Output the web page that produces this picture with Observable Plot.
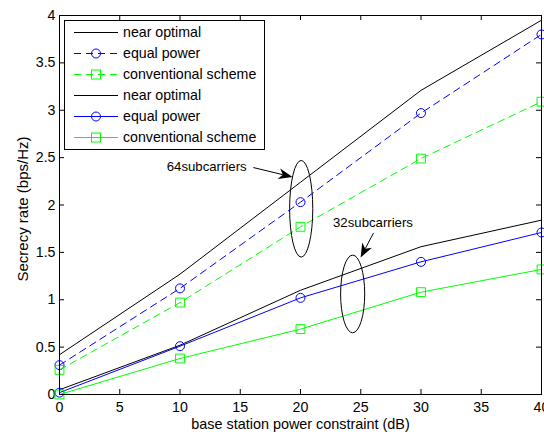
<!DOCTYPE html>
<html>
<head>
<meta charset="utf-8">
<script src="https://cdn.jsdelivr.net/npm/d3@7"></script>
<script src="https://cdn.jsdelivr.net/npm/@observablehq/plot@0.6"></script>
<style>
  html, body { margin: 0; padding: 0; background: white; overflow: hidden; }
</style>
</head>
<body>
<div id="chart"></div>
<script>
// ---- data ----
const snr = [0, 10, 20, 30, 40];
const near64 = [0.42, 1.27, 2.24, 3.21, 3.95];
const equal64 = [0.31, 1.12, 2.03, 2.97, 3.80];
const conv64 = [0.26, 0.97, 1.77, 2.49, 3.09];
const near32 = [0.05, 0.52, 1.10, 1.56, 1.84];
const equal32 = [0.02, 0.51, 1.02, 1.40, 1.71];
const conv32 = [0.00, 0.38, 0.69, 1.08, 1.32];

const xTicks = [0, 5, 10, 15, 20, 25, 30, 35, 40];
const yTicks = [0, 0.5, 1, 1.5, 2, 2.5, 3, 3.5, 4];
const xLabel = "base station power constraint (dB)";
const yLabel = "Secrecy rate (bps/Hz)";
const legendLabels = ["near optimal", "equal power", "conventional scheme", "near optimal", "equal power", "conventional scheme"];

// annotations
const groupLabels = ["64subcarriers", "32subcarriers"];
const groupLabelX = [8.9, 22.7];
const groupLabelY = [2.40, 1.81];
const ellipseCx = [20.1, 24.37];
const ellipseCy = [1.955, 1.056];
const ellipseRx = [0.96, 1.0];
const ellipseRy = [0.51, 0.41];
const arrowX1 = [16.13, 26.1];
const arrowY1 = [2.39, 1.70];
const arrowX2 = [19.38, 25.03];
const arrowY2 = [2.29, 1.44];

// ---- build tables ----
const toRows = (ys) => snr.map((x, i) => ({x, y: ys[i]}));
const DASH = "7,5";
const series = [
  {rows: toRows(near64), color: "#000000", dash: null, marker: null},
  {rows: toRows(equal64), color: "#0000ff", dash: DASH, marker: "circle"},
  {rows: toRows(conv64), color: "#00ff00", dash: DASH, marker: "square"},
  {rows: toRows(near32), color: "#000000", dash: null, marker: null},
  {rows: toRows(equal32), color: "#0000ff", dash: null, marker: "circle"},
  {rows: toRows(conv32), color: "#00ff00", dash: null, marker: "square"}
];
const annot = groupLabels.map((t, i) => ({t, x: groupLabelX[i], y: groupLabelY[i]}));

const FONT = "'Liberation Sans', Arial, Helvetica, sans-serif";
const FS = 14.2, XLFS = 14.4, YLFS = 15, AFS = 13.2;
const W = 544, H = 437, ML = 59, MR = 3, MT = 15, MB = 43;
const FW = W - ML - MR, FH = H - MT - MB;
const TICK = 5;

const marks = [];
series.forEach(s => {
  marks.push(Plot.line(s.rows, {x: "x", y: "y", stroke: s.color, strokeWidth: 1, strokeDasharray: s.dash || undefined}));
  if (s.marker === "circle") marks.push(Plot.dot(s.rows, {x: "x", y: "y", r: 4.5, stroke: s.color, fill: "none", strokeWidth: 1}));
  if (s.marker === "square") marks.push(Plot.dot(s.rows, {x: "x", y: "y", r: 5, symbol: "square", stroke: s.color, fill: "none", strokeWidth: 1}));
});

const plot = Plot.plot({
  width: W, height: H,
  marginLeft: ML, marginRight: MR, marginTop: MT, marginBottom: MB,
  x: {domain: [0, 40]},
  y: {domain: [0, 4]},
  style: {fontFamily: FONT, fontSize: FS + "px", background: "white", color: "black", overflow: "visible"},
  marks: [
    Plot.axisX({ticks: xTicks, tickSize: 0, tickPadding: 7, label: null, tickFormat: d => String(d), fontSize: FS}),
    Plot.axisY({ticks: yTicks, tickSize: 0, tickPadding: 4, label: null, tickFormat: d => String(d), fontSize: FS}),
    Plot.tickX(xTicks, {x: d => d, insetTop: FH - TICK, stroke: "black"}),
    Plot.tickX(xTicks, {x: d => d, insetBottom: FH - TICK, stroke: "black"}),
    Plot.tickY(yTicks, {y: d => d, insetRight: FW - TICK, stroke: "black"}),
    Plot.tickY(yTicks, {y: d => d, insetLeft: FW - TICK, stroke: "black"}),
    ...marks,
    Plot.frame({stroke: "black", strokeWidth: 1}),
    Plot.text([xLabel], {frameAnchor: "bottom", dy: 30, text: d => d, fontSize: XLFS, fill: "black", textAnchor: "middle", lineAnchor: "middle"}),
    Plot.text([yLabel], {frameAnchor: "left", dx: -36.5, dy: 4, rotate: -90, text: d => d, fontSize: YLFS, fill: "black", textAnchor: "middle", lineAnchor: "middle"}),
    Plot.text(annot, {x: "x", y: "y", text: "t", textAnchor: "start", fontSize: AFS, fill: "black"})
  ]
});

document.getElementById("chart").appendChild(plot);

// ---- annotations (ellipses, arrows) via scales ----
const sx = plot.scale("x"), sy = plot.scale("y");
const X = v => sx.apply(v), Y = v => sy.apply(v);
const svg = d3.select(plot);
const ann = svg.append("g");
ellipseCx.forEach((cx, i) => {
  ann.append("ellipse")
    .attr("cx", X(cx)).attr("cy", Y(ellipseCy[i]))
    .attr("rx", Math.abs(X(cx + ellipseRx[i]) - X(cx)))
    .attr("ry", Math.abs(Y(ellipseCy[i] + ellipseRy[i]) - Y(ellipseCy[i])))
    .attr("fill", "none").attr("stroke", "black").attr("stroke-width", 1);
});
arrowX1.forEach((x1, i) => {
  const ax = X(x1), ay = Y(arrowY1[i]), bx = X(arrowX2[i]), by = Y(arrowY2[i]);
  const dx = bx - ax, dy = by - ay, L = Math.hypot(dx, dy);
  const ux = dx / L, uy = dy / L, px = -uy, py = ux;
  const hl = 14, hw = 5.5, notch = 10;
  ann.append("line").attr("x1", ax).attr("y1", ay)
    .attr("x2", bx - ux * notch).attr("y2", by - uy * notch)
    .attr("stroke", "black").attr("stroke-width", 1);
  const pts = [
    [bx, by],
    [bx - ux * hl + px * hw, by - uy * hl + py * hw],
    [bx - ux * notch, by - uy * notch],
    [bx - ux * hl - px * hw, by - uy * hl - py * hw]
  ];
  ann.append("polygon").attr("points", pts.map(p => p.join(",")).join(" ")).attr("fill", "black");
});

// ---- legend (inside the plot, top-left) ----
const lg = svg.append("g").attr("font-family", FONT).attr("font-size", FS).attr("text-anchor", "start");
const lx = 64, ly = 20, lw = 200, lh = 129, row0 = 32.5, rowH = 21;
lg.append("rect").attr("x", lx + 0.5).attr("y", ly + 0.5).attr("width", lw).attr("height", lh)
  .attr("fill", "white").attr("stroke", "black").attr("stroke-width", 1);
series.forEach((s, i) => {
  const yy = row0 + i * rowH;
  lg.append("line").attr("x1", 74).attr("x2", 118).attr("y1", yy).attr("y2", yy)
    .attr("stroke", s.color).attr("stroke-width", 1)
    .attr("stroke-dasharray", s.dash || null);
  if (s.marker === "circle") {
    lg.append("circle").attr("cx", 96).attr("cy", yy).attr("r", 4.5)
      .attr("fill", "none").attr("stroke", s.color);
  } else if (s.marker === "square") {
    lg.append("rect").attr("x", 91.5).attr("y", yy - 4.5).attr("width", 9).attr("height", 9)
      .attr("fill", "none").attr("stroke", s.color);
  }
  lg.append("text").attr("x", 123).attr("y", yy).attr("dy", "0.35em")
    .attr("text-anchor", "start").attr("fill", "black").text(legendLabels[i]);
});
</script>
</body>
</html>
